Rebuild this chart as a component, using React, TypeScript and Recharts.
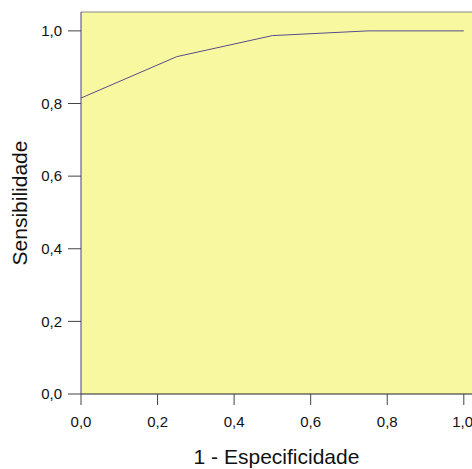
import React from 'react';
import {
  LineChart,
  Line,
  XAxis,
  YAxis,
  CartesianGrid,
  ReferenceLine,
  Label,
} from 'recharts';

// ROC curve — 1 - especificidade vs sensibilidade
const falsePositiveRate = [0, 0.25, 0.5, 0.75, 1];
const sensitivity = [0.815, 0.929, 0.987, 1, 1];
const tickValues = [0, 0.2, 0.4, 0.6, 0.8, 1];

const X_MAX = 1.0214;
const Y_MAX = 1.052;

const data = falsePositiveRate.map((x, i) => ({ x, y: sensitivity[i] }));

const fmt = (v: number) => v.toFixed(1).replace('.', ',');

const FONT = '"Liberation Sans", Arial, sans-serif';

export default function App() {
  return (
    <div style={{ position: 'fixed', left: 0, top: 0, background: '#fff' }}>
      <LineChart
        width={472}
        height={469}
        data={data}
        margin={{ top: 12, right: 0, left: 0, bottom: 0 }}
        style={{ fontFamily: FONT }}
      >
        <CartesianGrid
          horizontal={false}
          vertical={false}
          fill="#f8f8a0"
          fillOpacity={1}
        />
        <ReferenceLine y={Y_MAX} stroke="#888888" strokeWidth={1} />
        <XAxis
          type="number"
          dataKey="x"
          domain={[0, X_MAX]}
          ticks={tickValues}
          allowDataOverflow
          tickFormatter={fmt}
          height={75}
          tickSize={11}
          tickMargin={11}
          stroke="#222"
          tick={{ fill: '#111', fontSize: 15 }}
          tickLine={{ stroke: '#444' }}
        >
          <Label
            value="1 - Especificidade"
            position="insideBottom"
            offset={5}
            style={{ fontSize: 21, fill: '#111' }}
          />
        </XAxis>
        <YAxis
          type="number"
          domain={[0, Y_MAX]}
          ticks={tickValues}
          allowDataOverflow
          tickFormatter={fmt}
          width={81}
          tickSize={13}
          tickMargin={6}
          stroke="#4a4070"
          tick={{ fill: '#111', fontSize: 15 }}
          tickLine={{ stroke: '#444' }}
        >
          <Label
            value="Sensibilidade"
            angle={-90}
            position="insideLeft"
            offset={20}
            style={{ fontSize: 21, fill: '#111', textAnchor: 'middle' }}
          />
        </YAxis>
        <Line
          type="linear"
          dataKey="y"
          stroke="#5a4c8c"
          strokeWidth={1}
          dot={false}
          isAnimationActive={false}
        />
      </LineChart>
    </div>
  );
}
